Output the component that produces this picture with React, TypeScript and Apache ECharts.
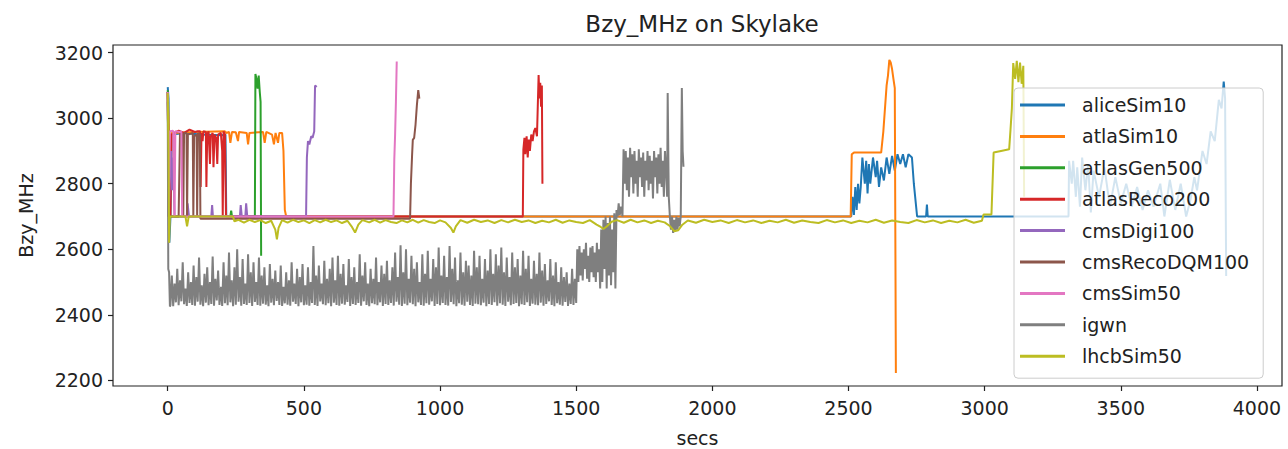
import React, { useEffect, useRef } from "react";
import * as echarts from "echarts";

const seriesNames = [
  "aliceSim10",
  "atlaSim10",
  "atlasGen500",
  "atlasReco200",
  "cmsDigi100",
  "cmsRecoDQM100",
  "cmsSim50",
  "igwn",
  "lhcbSim50",
];

const palette = [
  "#1f77b4",
  "#ff7f0e",
  "#2ca02c",
  "#d62728",
  "#9467bd",
  "#8c564b",
  "#e377c2",
  "#7f7f7f",
  "#bcbd22",
];

const xTicks = [0, 500, 1000, 1500, 2000, 2500, 3000, 3500, 4000];
const yTicks = [2200, 2400, 2600, 2800, 3000, 3200];

const aliceSim10 = [
  [0, 3095], [3, 3060], [6, 2620], [10, 2700], [15, 2950], [60, 2955], [120, 2950], [200, 2948],
  [212, 2950], [215, 2700], [2510, 2700], [2515, 2760], [2520, 2705], [2525, 2790], [2530, 2720],
  [2535, 2800], [2540, 2740], [2545, 2790], [2551, 2880], [2560, 2800], [2565, 2870], [2570, 2770],
  [2575, 2860], [2580, 2800], [2590, 2880], [2600, 2820], [2605, 2870], [2612, 2790], [2620, 2850],
  [2630, 2810], [2640, 2880], [2650, 2830], [2660, 2885], [2670, 2840], [2680, 2890], [2690, 2860],
  [2700, 2890], [2710, 2850], [2720, 2890], [2733, 2880], [2740, 2800], [2752, 2700], [2785, 2700],
  [2788, 2736], [2791, 2700], [3308, 2700], [3310, 2870], [3320, 2800], [3325, 2870], [3335, 2760],
  [3340, 2850], [3350, 2730], [3358, 2880], [3370, 2780], [3380, 2860], [3390, 2712], [3400, 2840],
  [3420, 2760], [3440, 2850], [3460, 2730], [3480, 2820], [3500, 2740], [3520, 2800], [3540, 2730],
  [3560, 2790], [3580, 2720], [3600, 2780], [3620, 2730], [3645, 2800], [3660, 2700], [3680, 2812],
  [3700, 2720], [3720, 2800], [3740, 2700], [3756, 2751], [3770, 2820], [3780, 2780], [3800, 2900],
  [3815, 2860], [3830, 2960], [3845, 2930], [3860, 3056], [3870, 3030], [3878, 3112], [3883, 3060],
  [3887, 2518],
];

const atlaSim10 = [
  [0, 3080], [3, 3000], [6, 2800], [10, 2850], [14, 2955], [100, 2958], [210, 2960], [215, 2955],
  [225, 2958], [230, 2925], [236, 2958], [250, 2957], [258, 2930], [262, 2958], [290, 2955],
  [295, 2920], [300, 2955], [350, 2958], [356, 2925], [362, 2958], [383, 2950], [390, 2920],
  [396, 2955], [405, 2925], [410, 2955], [420, 2955], [425, 2900], [430, 2720], [435, 2700],
  [2508, 2700], [2512, 2890], [2520, 2895], [2620, 2895], [2628, 2960], [2640, 3100], [2645, 3130],
  [2650, 3178], [2655, 3170], [2660, 3150], [2665, 3120], [2670, 3092], [2674, 2222],
];

const atlasGen500 = [
  [0, 3085], [3, 2700], [230, 2700], [233, 2718], [236, 2700], [320, 2700], [322, 3135], [326, 3120],
  [330, 3090], [334, 3130], [338, 3080], [341, 3050], [343, 2580],
];

const atlasReco200 = [
  [0, 3080], [4, 2700], [10, 2700], [14, 2950], [40, 2962], [60, 2955], [80, 2965], [100, 2958],
  [110, 2960], [119, 2960], [121, 2790], [124, 2955], [128, 2930], [131, 2960], [140, 2958],
  [142, 2790], [145, 2950], [150, 2960], [155, 2860], [158, 2945], [165, 2955], [168, 2850],
  [172, 2950], [178, 2940], [182, 2860], [185, 2950], [195, 2955], [200, 2900], [202, 2700],
  [205, 2960], [210, 2950], [214, 2700], [1304, 2700], [1306, 2904], [1310, 2940], [1313, 2890],
  [1318, 2945], [1322, 2880], [1326, 2935], [1330, 2900], [1335, 2950], [1340, 2930], [1345, 2960],
  [1350, 2970], [1356, 2945], [1362, 3132], [1365, 3060], [1368, 3108], [1371, 3035], [1374, 3100],
  [1376, 2800],
];

const cmsDigi100 = [
  [0, 3080], [4, 2700], [8, 2850], [12, 2900], [16, 2780], [20, 2880], [25, 2700], [70, 2700],
  [73, 2740], [78, 2700], [160, 2700], [163, 2735], [166, 2700], [265, 2700], [268, 2735],
  [272, 2700], [285, 2700], [288, 2740], [292, 2700], [508, 2700], [511, 2880], [515, 2930],
  [520, 2920], [527, 2945], [532, 2940], [538, 2960], [541, 3100], [547, 3095],
];

const cmsRecoDQM100 = [
  [0, 3080], [4, 2700], [40, 2700], [45, 2955], [55, 2950], [57, 2700], [60, 2955], [69, 2955],
  [71, 2700], [74, 2950], [92, 2955], [94, 2700], [97, 2945], [106, 2950], [108, 2700], [111, 2955],
  [118, 2950], [120, 2693], [890, 2693], [893, 2800], [897, 2880], [900, 2934], [905, 2940],
  [910, 2980], [915, 3040], [920, 3086], [924, 3060],
];

const cmsSim50 = [
  [0, 3080], [4, 2700], [8, 2960], [20, 2962], [25, 2700], [28, 2960], [45, 2958], [50, 2960],
  [53, 2700], [829, 2700], [832, 2873], [835, 2950], [838, 3050], [841, 3173],
];

// igwn: start, dense part sampled every 5 s from t=10 s, then the tail
const igwnStart = [[0, 3050], [2, 2540], [5, 2530], [8, 2425]];
const igwnSampleStart = 10;
const igwnSampleStep = 5;
const igwnDense = [
  2430, 2520, 2426, 2495, 2438, 2540, 2429, 2505, 2441, 2560, 2432, 2480, 2427, 2530, 2436, 2500, 2430, 2550, 2428, 2515,
  2440, 2575, 2431, 2490, 2426, 2525, 2437, 2545, 2429, 2500, 2433, 2578, 2428, 2510, 2444, 2535, 2430, 2485, 2427, 2560,
  2435, 2520, 2429, 2590, 2438, 2505, 2426, 2545, 2431, 2600, 2440, 2515, 2428, 2570, 2433, 2495, 2430, 2585, 2436, 2530,
  2427, 2560, 2439, 2500, 2430, 2575, 2428, 2520, 2434, 2545, 2431, 2490, 2426, 2555, 2437, 2510, 2429, 2535, 2442, 2500,
  2430, 2550, 2427, 2485, 2435, 2530, 2431, 2505, 2428, 2560, 2440, 2495, 2433, 2540, 2426, 2515, 2438, 2555, 2429, 2490,
  2431, 2545, 2428, 2500, 2436, 2610, 2430, 2520, 2427, 2550, 2441, 2495, 2432, 2565, 2429, 2510, 2435, 2540, 2426, 2575,
  2437, 2505, 2430, 2580, 2428, 2525, 2434, 2555, 2431, 2490, 2439, 2570, 2427, 2515, 2433, 2545, 2430, 2500, 2436, 2585,
  2428, 2520, 2441, 2560, 2430, 2495, 2426, 2540, 2435, 2510, 2432, 2575, 2429, 2500, 2438, 2550, 2427, 2525, 2433, 2565,
  2430, 2505, 2436, 2545, 2428, 2590, 2440, 2515, 2431, 2612, 2427, 2530, 2434, 2600, 2429, 2510, 2437, 2580, 2432, 2540,
  2426, 2560, 2438, 2500, 2430, 2585, 2428, 2525, 2435, 2595, 2431, 2510, 2441, 2570, 2427, 2545, 2433, 2605, 2429, 2520,
  2436, 2580, 2430, 2515, 2428, 2610, 2439, 2540, 2432, 2575, 2426, 2505, 2435, 2590, 2431, 2530, 2428, 2565, 2440, 2550,
  2430, 2520, 2427, 2595, 2434, 2545, 2432, 2580, 2429, 2510, 2437, 2570, 2426, 2535, 2433, 2600, 2430, 2525, 2438, 2585,
  2428, 2550, 2435, 2605, 2431, 2530, 2427, 2575, 2440, 2515, 2429, 2590, 2433, 2545, 2436, 2570, 2426, 2520, 2432, 2595,
  2430, 2540, 2438, 2580, 2427, 2510, 2434, 2565, 2431, 2525, 2429, 2590, 2437, 2535, 2428, 2555, 2433, 2505, 2441, 2570,
  2430, 2520, 2426, 2560, 2435, 2500, 2431, 2545, 2428, 2515, 2439, 2530, 2427, 2495, 2433, 2540, 2430, 2510, 2436,
];
const igwnTail = [
  [1504, 2600], [1508, 2500], [1512, 2610], [1516, 2520], [1520, 2590], [1524, 2505],
  [1528, 2600], [1532, 2540], [1536, 2620], [1540, 2510], [1544, 2580], [1548, 2500], [1552, 2605],
  [1556, 2530], [1560, 2610], [1564, 2515], [1568, 2590], [1572, 2500], [1576, 2620], [1580, 2530],
  [1584, 2600], [1588, 2480], [1592, 2660], [1596, 2500], [1600, 2690], [1604, 2540], [1608, 2700],
  [1612, 2480], [1616, 2680], [1620, 2520], [1624, 2700], [1628, 2490], [1632, 2660], [1636, 2530],
  [1640, 2710], [1644, 2480], [1648, 2720], [1652, 2700], [1656, 2740], [1660, 2705], [1665, 2730],
  [1670, 2700], [1674, 2905], [1678, 2800], [1682, 2900], [1686, 2780], [1690, 2880], [1694, 2760],
  [1698, 2910], [1702, 2820], [1706, 2890], [1710, 2770], [1714, 2900], [1718, 2800], [1722, 2870],
  [1726, 2760], [1730, 2905], [1734, 2820], [1738, 2880], [1742, 2790], [1746, 2895], [1750, 2760],
  [1754, 2870], [1758, 2810], [1762, 2900], [1766, 2780], [1770, 2885], [1774, 2800], [1778, 2870],
  [1782, 2755], [1786, 2900], [1790, 2820], [1794, 2880], [1798, 2770], [1802, 2890], [1806, 2800],
  [1810, 2910], [1814, 2790], [1818, 2870], [1822, 2760], [1826, 2900], [1830, 2840], [1834, 2760],
  [1836, 3077], [1840, 2760], [1844, 2700], [1848, 2660], [1852, 2700], [1856, 2650], [1860, 2690],
  [1864, 2655], [1868, 2700], [1872, 2660], [1876, 2695], [1880, 2670], [1884, 2700], [1888, 3092],
  [1891, 2900], [1894, 2852],
];

const lhcbSim50 = [
  [0, 3077], [3, 2900], [5, 2620], [8, 2700], [65, 2700], [71, 2670], [77, 2700], [240, 2700],
  [245, 2685], [260, 2690], [280, 2681], [300, 2690], [320, 2683], [340, 2689], [360, 2680],
  [380, 2687], [395, 2660], [401, 2630], [407, 2665], [420, 2689], [440, 2681], [460, 2690],
  [480, 2683], [500, 2688], [520, 2680], [540, 2689], [560, 2682], [580, 2690], [600, 2683],
  [620, 2688], [640, 2680], [660, 2687], [675, 2670], [688, 2651], [700, 2675], [715, 2689],
  [740, 2682], [760, 2690], [780, 2681], [800, 2689], [820, 2683], [840, 2680], [860, 2688],
  [880, 2682], [900, 2690], [920, 2681], [940, 2689], [960, 2683], [980, 2680], [1000, 2688],
  [1020, 2682], [1040, 2665], [1049, 2651], [1058, 2670], [1075, 2689], [1100, 2681], [1125, 2690],
  [1150, 2683], [1175, 2688], [1200, 2680], [1225, 2689], [1250, 2682], [1275, 2690], [1300, 2683],
  [1325, 2688], [1350, 2680], [1375, 2687], [1400, 2682], [1425, 2690], [1450, 2681], [1475, 2688],
  [1500, 2683], [1525, 2680], [1550, 2689], [1575, 2675], [1590, 2668], [1600, 2662], [1613, 2670],
  [1630, 2684], [1650, 2689], [1675, 2681], [1700, 2690], [1725, 2682], [1750, 2688], [1775, 2680],
  [1800, 2687], [1825, 2682], [1845, 2670], [1860, 2655], [1875, 2658], [1890, 2675], [1910, 2688],
  [1940, 2681], [1970, 2690], [2000, 2683], [2030, 2688], [2060, 2680], [2090, 2689], [2120, 2682],
  [2150, 2688], [2180, 2680], [2210, 2687], [2240, 2682], [2270, 2690], [2300, 2681], [2330, 2688],
  [2360, 2683], [2390, 2680], [2420, 2689], [2450, 2682], [2480, 2688], [2510, 2680], [2540, 2687],
  [2570, 2682], [2600, 2690], [2630, 2681], [2660, 2688], [2690, 2683], [2720, 2680], [2750, 2689],
  [2780, 2682], [2810, 2688], [2840, 2680], [2870, 2687], [2900, 2682], [2930, 2690], [2960, 2681],
  [2990, 2687], [2996, 2706], [3025, 2706], [3033, 2895], [3060, 2900], [3090, 2905], [3095, 2965],
  [3100, 3030], [3105, 3168], [3112, 3120], [3118, 3175], [3124, 3110], [3130, 3170], [3136, 3105],
  [3142, 3160], [3145, 2760],
];

const FONT = "DejaVu Sans";

export default function App() {
  const ref = useRef<HTMLDivElement>(null);

  useEffect(() => {
    document.body.style.margin = "0";
    if (!ref.current) return;
    const chart = echarts.init(ref.current, null, { renderer: "svg" });

    const igwn = [
      ...igwnStart,
      ...igwnDense.map((y, i) => [igwnSampleStart + igwnSampleStep * i, y]),
      ...igwnTail,
    ];
    const allData = [
      aliceSim10,
      atlaSim10,
      atlasGen500,
      atlasReco200,
      cmsDigi100,
      cmsRecoDQM100,
      cmsSim50,
      igwn,
      lhcbSim50,
    ];

    const axisColor = "#222";

    chart.setOption({
      animation: false,
      color: palette,
      textStyle: { fontFamily: FONT },
      title: {
        text: "Bzy_MHz on Skylake",
        left: 697,
        textAlign: "center",
        top: 7,
        textStyle: { fontFamily: FONT, fontSize: 23, fontWeight: "normal", color: "#222" },
      },
      grid: {
        left: 113,
        right: 6,
        top: 45,
        bottom: 63,
        show: true,
        borderColor: axisColor,
        borderWidth: 1.2,
        backgroundColor: "#fff",
        containLabel: false,
        outerBoundsMode: "none",
      },
      legend: {
        orient: "vertical",
        left: 1014,
        top: 88,
        width: 259,
        icon: "rect",
        itemWidth: 45,
        itemHeight: 3,
        itemGap: 9.4,
        padding: [6, 14, 11, 6],
        backgroundColor: "rgba(255,255,255,0.8)",
        borderColor: "#cccccc",
        borderWidth: 1,
        borderRadius: 4,
        textStyle: {
          fontFamily: FONT,
          fontSize: 19,
          lineHeight: 22,
          color: "#222",
          padding: [0, 0, 0, 12],
        },
        data: seriesNames,
        selectedMode: false,
      },
      xAxis: {
        type: "value",
        min: -201,
        max: 4092,
        name: "secs",
        nameLocation: "middle",
        nameGap: 42,
        nameTextStyle: { fontFamily: FONT, fontSize: 19, color: "#222" },
        splitLine: { show: false },
        axisLine: { show: false, onZero: false },
        axisTick: {
          show: true,
          length: 5,
          customValues: xTicks,
          lineStyle: { color: axisColor, width: 1.2 },
        },
        axisLabel: {
          customValues: xTicks,
          formatter: (v: number) => String(v),
          fontFamily: FONT,
          fontSize: 19,
          color: "#222",
          margin: 12,
        },
      },
      yAxis: {
        type: "value",
        min: 2182.6,
        max: 3223.4,
        name: "Bzy_MHz",
        nameLocation: "middle",
        nameGap: 78,
        nameRotate: 90,
        nameTextStyle: { fontFamily: FONT, fontSize: 19, color: "#222" },
        splitLine: { show: false },
        axisLine: { show: false, onZero: false },
        axisTick: {
          show: true,
          length: 5,
          customValues: yTicks,
          lineStyle: { color: axisColor, width: 1.2 },
        },
        axisLabel: {
          customValues: yTicks,
          formatter: (v: number) => String(v),
          fontFamily: FONT,
          fontSize: 19,
          color: "#222",
          margin: 10,
        },
      },
      series: seriesNames.map((name, i) => ({
        name,
        type: "line",
        data: allData[i],
        showSymbol: false,
        symbol: "none",
        lineStyle: { width: 2, color: palette[i] },
        itemStyle: { color: palette[i] },
        emphasis: { disabled: true },
        silent: true,
      })),
    });

    return () => chart.dispose();
  }, []);

  return <div ref={ref} style={{ width: 1288, height: 449 }} />;
}
